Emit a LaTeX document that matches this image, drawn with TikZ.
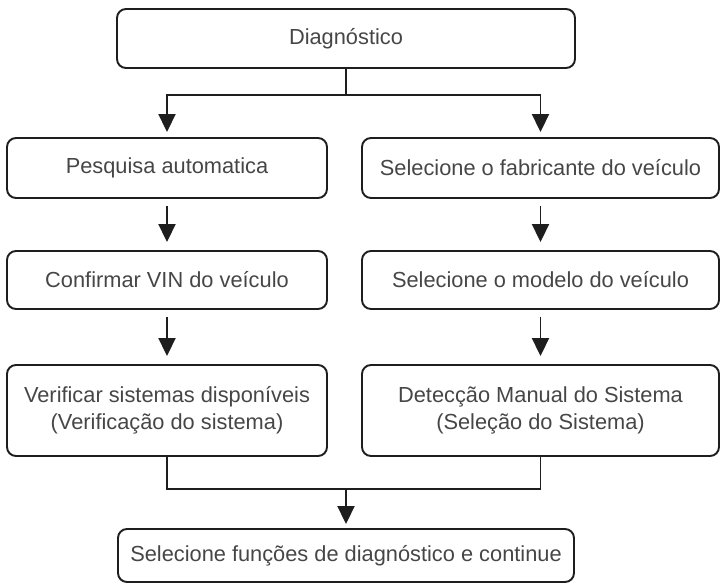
\documentclass[tikz,border=0pt]{standalone}
\usepackage{fontspec}
\setmainfont{Liberation Sans}
\usetikzlibrary{arrows.meta,positioning}
\definecolor{boxtext}{HTML}{464646}
\definecolor{boxline}{HTML}{1E1E1E}
\tikzset{
	etapa/.style={draw=boxline, line width=1.9pt, rounded corners=9pt, text=boxtext,
			align=center, inner sep=0pt, font=\fontsize{21.8}{27}\selectfont},
	linha/.style={draw=boxline, line width=1.9pt},
	seta/.style={linha, -{Triangle[width=17pt,length=18pt]}},
}

\begin{document}
\begin{tikzpicture}[x=1pt, y=-1pt]
	\useasboundingbox (0,0) rectangle (721,584);
	\node[etapa, minimum width=458pt, minimum height=59pt] (diag) at (346,38.5) {Diagnóstico};
	\node[etapa, minimum width=320pt, minimum height=60pt] (pesq) at (167,168) {Pesquisa automatica};
	\node[etapa, minimum width=357pt, minimum height=60pt] (fabr) at (540.5,168) {Selecione o fabricante do veículo};
	\node[etapa, minimum width=320pt, minimum height=58pt] (vin) at (167,280) {Confirmar VIN do veículo};
	\node[etapa, minimum width=357pt, minimum height=58pt] (modelo) at (540.5,280) {Selecione o modelo do veículo};
	\node[etapa, minimum width=320pt, minimum height=91pt] (verif) at (167,410.5) {Verificar sistemas disponíveis\\(Verificação do sistema)};
	\node[etapa, minimum width=357pt, minimum height=91pt] (manual) at (540.5,410.5) {Detecção Manual do Sistema\\(Seleção do Sistema)};
	\node[etapa, minimum width=456pt, minimum height=53pt] (fim) at (346,555.5) {Selecione funções de diagnóstico e continue};

	% split from the top box
	\draw[linha] (diag.south) -- ++(0,26) coordinate (divide);
	\draw[seta, shorten >=5pt] (divide) -| (pesq.north);
	\draw[seta, shorten >=5pt] (divide) -| (fabr.north);

	\foreach \a/\b in {pesq/vin, vin/verif, fabr/modelo, modelo/manual}{
			\draw[seta, shorten <=7pt, shorten >=8pt] (\a) -- (\b);
		}

	% join into the last box
	\coordinate (junta) at (346,489);
	\draw[linha] (verif.south) |- (junta) -| (manual.south);
	\draw[seta, shorten >=4pt] (junta) -- (fim.north);
\end{tikzpicture}
\end{document}
